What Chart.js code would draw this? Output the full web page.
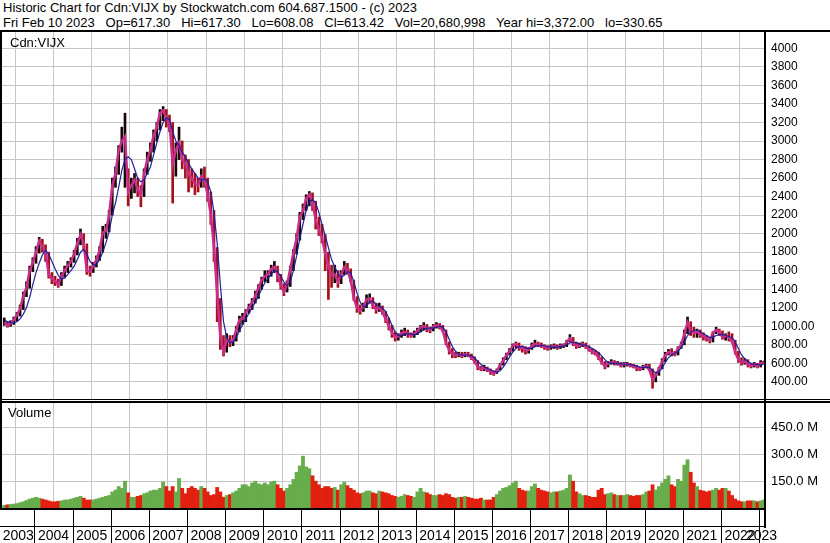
<!DOCTYPE html>
<html>
<head>
<meta charset="utf-8">
<script src="https://cdn.jsdelivr.net/npm/chart.js@4.4.0/dist/chart.umd.min.js"></script>
<style>
  body { margin: 0; background: #fff; }
  #page { position: relative; width: 830px; height: 543px; overflow: hidden; font-family: "Liberation Sans", Arial, sans-serif; color: #000; }
  .txt { position: absolute; font-size: 13px; line-height: 15px; white-space: pre; }
  .rule { position: absolute; background: #000; }
  canvas { position: absolute; left: 0; }
</style>
</head>
<body>
<div id="page">
  <div class="txt" style="left:3px; top:0">Historic Chart for Cdn:VIJX by Stockwatch.com 604.687.1500 - (c) 2023</div>
  <div class="txt" style="left:3px; top:15px">Fri Feb 10 2023   Op=617.30   Hi=617.30   Lo=608.08   Cl=613.42   Vol=20,680,998   Year hi=3,372.00   lo=330.65</div>
  <canvas id="price" width="830" height="367" style="top:32px"></canvas>
  <canvas id="volume" width="830" height="140" style="top:403px"></canvas>
  <div class="rule" style="left:0; top:30px; width:830px; height:2px"></div>
  <div class="rule" style="left:0; top:32px; width:2px; height:476px"></div>
  <div class="rule" style="left:764px; top:30px; width:2px; height:478px"></div>
  <div class="rule" style="left:0; top:399px; width:830px; height:1px"></div>
  <div class="rule" style="left:0; top:401px; width:830px; height:2px"></div>
  <div class="txt" style="left:10px; top:35px">Cdn:VIJX</div>
  <div class="txt" style="left:8px; top:405px">Volume</div>
</div>
<script>
// monthly readings, Mar 2003 .. Feb 2023
const startYear = 2003;
const startMonth = 3;

const close = [
  1040, 1010, 1030, 1070, 1120, 1190, 1330, 1420, 1600, 1690,            // 2003
  1800, 1920, 1860, 1800, 1560, 1510, 1490, 1450, 1540, 1600, 1660, 1700, // 2004
  1780, 1900, 1990, 1890, 1600, 1590, 1650, 1720, 1820, 2010, 2030, 2200, // 2005
  2520, 2650, 2900, 3000, 3050, 2450, 2520, 2580, 2480, 2420, 2650, 2800, // 2006
  2900, 3060, 3150, 3300, 3330, 3250, 3200, 2750, 2900, 2980, 2800, 2750, // 2007
  2650, 2600, 2540, 2520, 2620, 2580, 2420, 2200, 1850, 1350, 880, 720,   // 2008
  850, 830, 850, 960, 1070, 1080, 1150, 1200, 1260, 1330, 1420, 1500,     // 2009
  1540, 1560, 1620, 1640, 1560, 1450, 1370, 1450, 1620, 1800, 1950, 2180, // 2010
  2250, 2380, 2420, 2330, 2150, 2040, 1950, 1780, 1650, 1550, 1560, 1480, // 2011
  1560, 1640, 1600, 1500, 1300, 1200, 1170, 1210, 1290, 1300, 1220, 1180, // 2012
  1200, 1150, 1080, 1000, 930, 880, 890, 930, 940, 920, 900, 920,         // 2013
  950, 990, 1000, 980, 960, 1000, 1010, 1000, 950, 820, 740, 700,         // 2014
  690, 700, 680, 700, 690, 660, 620, 560, 540, 550, 530, 510,             // 2015
  490, 520, 580, 630, 690, 730, 790, 810, 770, 760, 740, 745,             // 2016
  790, 810, 800, 790, 780, 760, 780, 790, 770, 790, 790, 830,             // 2017
  870, 810, 790, 790, 810, 780, 750, 720, 710, 660, 610, 570,             // 2018
  600, 610, 600, 600, 580, 590, 590, 580, 570, 550, 540, 560,             // 2019
  570, 530, 420, 470, 540, 620, 690, 720, 710, 700, 760, 800,             // 2020
  920, 1040, 950, 930, 940, 910, 890, 870, 850, 930, 960, 940,            // 2021
  880, 900, 880, 840, 720, 640, 610, 620, 590, 570, 590, 565,             // 2022
  600, 613                                                                // 2023
];

const high = [
  1090, 1050, 1060, 1100, 1150, 1230, 1370, 1480, 1650, 1740,
  1860, 1960, 1940, 1880, 1800, 1580, 1540, 1510, 1580, 1650, 1700, 1740,
  1820, 1950, 2050, 2000, 1890, 1650, 1690, 1760, 1860, 2080, 2100, 2250,
  2600, 2720, 2950, 3150, 3300, 2700, 2600, 2650, 2600, 2520, 2700, 2880,
  2980, 3120, 3200, 3340, 3372, 3340, 3280, 3200, 2980, 3150, 3000, 2850,
  2800, 2700, 2650, 2600, 2700, 2720, 2600, 2450, 2250, 1850, 1300, 900,
  920, 900, 900, 1000, 1110, 1140, 1180, 1240, 1300, 1380, 1450, 1530,
  1600, 1600, 1660, 1700, 1650, 1560, 1460, 1490, 1650, 1830, 2000, 2230,
  2320, 2420, 2455, 2440, 2350, 2180, 2100, 1990, 1800, 1660, 1660, 1600,
  1600, 1700, 1680, 1620, 1500, 1320, 1230, 1250, 1340, 1350, 1310, 1250,
  1250, 1220, 1160, 1090, 1010, 940, 920, 960, 980, 960, 930, 950,
  980, 1010, 1040, 1020, 990, 1020, 1040, 1030, 1010, 960, 830, 760,
  720, 720, 720, 720, 720, 700, 670, 630, 570, 580, 560, 540,
  520, 540, 600, 660, 710, 760, 810, 830, 820, 790, 780, 770,
  820, 850, 830, 820, 800, 790, 800, 810, 800, 810, 810, 850,
  910, 880, 830, 820, 830, 820, 790, 760, 740, 720, 670, 620,
  620, 640, 630, 620, 610, 610, 610, 600, 590, 580, 560, 580,
  590, 590, 540, 490, 560, 650, 720, 750, 760, 730, 780, 830,
  960, 1100, 1050, 990, 970, 960, 930, 900, 880, 940, 990, 970,
  950, 920, 940, 920, 850, 730, 660, 650, 640, 600, 610, 600,
  630, 625
];

const low = [
  1010, 990, 1000, 1020, 1060, 1110, 1180, 1320, 1410, 1590,
  1680, 1790, 1800, 1700, 1520, 1460, 1440, 1420, 1440, 1530, 1580, 1640,
  1690, 1770, 1880, 1820, 1560, 1540, 1580, 1640, 1710, 1800, 1950, 2020,
  2200, 2500, 2640, 2880, 2500, 2300, 2380, 2440, 2400, 2290, 2400, 2640,
  2780, 2880, 3000, 3120, 3220, 3150, 3100, 2330, 2620, 2800, 2700, 2600,
  2450, 2500, 2420, 2450, 2500, 2500, 2350, 2100, 1700, 1050, 750, 680,
  720, 780, 790, 840, 940, 1020, 1050, 1140, 1180, 1250, 1300, 1400,
  1480, 1470, 1540, 1580, 1480, 1400, 1330, 1370, 1430, 1600, 1780, 1930,
  2150, 2250, 2300, 2250, 2050, 1980, 1900, 1600, 1290, 1420, 1470, 1420,
  1460, 1560, 1560, 1480, 1280, 1150, 1130, 1160, 1200, 1250, 1190, 1140,
  1160, 1130, 1040, 960, 880, 840, 850, 880, 900, 880, 880, 880,
  910, 940, 960, 940, 930, 950, 980, 970, 940, 800, 700, 660,
  660, 670, 660, 670, 670, 640, 600, 530, 520, 520, 510, 480,
  470, 490, 530, 580, 640, 690, 730, 770, 740, 720, 700, 710,
  750, 780, 780, 770, 750, 740, 750, 760, 750, 760, 770, 780,
  830, 790, 760, 770, 780, 760, 730, 700, 690, 640, 590, 540,
  560, 590, 580, 580, 560, 560, 570, 560, 550, 520, 520, 530,
  550, 520, 331, 400, 470, 540, 620, 690, 680, 680, 690, 760,
  800, 920, 900, 880, 880, 880, 850, 840, 820, 830, 920, 900,
  860, 850, 840, 820, 700, 610, 580, 590, 560, 550, 560, 550,
  560, 605
];

// the slow (blue) average line
const slowAvg = [
  1070, 1050, 1040, 1040, 1050, 1080, 1130, 1200, 1310, 1450,
  1580, 1680, 1770, 1820, 1780, 1700, 1620, 1550, 1510, 1520, 1560, 1600,
  1650, 1720, 1800, 1830, 1780, 1700, 1660, 1670, 1720, 1800, 1900, 2020,
  2200, 2330, 2500, 2680, 2800, 2830, 2800, 2700, 2600, 2560, 2580, 2650,
  2720, 2850, 2980, 3100, 3200, 3250, 3230, 3100, 3000, 2950, 2880, 2830,
  2760, 2700, 2650, 2600, 2580, 2590, 2560, 2450, 2230, 1900, 1450, 1050,
  880, 820, 830, 880, 950, 1020, 1080, 1140, 1200, 1260, 1330, 1400,
  1470, 1520, 1560, 1600, 1590, 1540, 1480, 1440, 1480, 1600, 1760, 1950,
  2100, 2250, 2340, 2370, 2330, 2230, 2100, 1980, 1850, 1720, 1640, 1570,
  1530, 1550, 1590, 1580, 1480, 1360, 1260, 1210, 1220, 1260, 1270, 1240,
  1210, 1200, 1160, 1090, 1010, 940, 900, 900, 910, 920, 915, 910,
  920, 940, 960, 980, 980, 980, 990, 1000, 990, 940, 860, 780,
  730, 700, 690, 690, 690, 680, 660, 620, 590, 560, 545, 530,
  515, 505, 520, 560, 610, 670, 720, 760, 780, 780, 770, 760,
  765, 780, 790, 795, 790, 780, 775, 775, 775, 780, 785, 800,
  820, 830, 820, 810, 800, 795, 780, 760, 740, 715, 680, 640,
  610, 600, 600, 600, 595, 590, 590, 585, 580, 570, 560, 555,
  560, 555, 520, 500, 505, 550, 610, 660, 690, 710, 730, 770,
  830, 900, 940, 960, 960, 940, 920, 900, 880, 880, 900, 910,
  910, 900, 890, 880, 830, 760, 690, 650, 620, 600, 590, 585,
  585, 590
];

// volume in millions
const volume = [
  15, 18, 20, 22, 25, 30, 35, 42, 50, 55,
  60, 55, 50, 45, 40, 35, 35, 38, 40, 45, 45, 50,
  55, 60, 65, 55, 45, 45, 45, 50, 55, 60, 65, 70,
  90, 100, 120, 110, 150, 85, 60, 60, 65, 70, 80, 85,
  95, 100, 100, 110, 145, 120, 95, 120, 90, 165, 110, 80,
  110, 120, 110, 100, 120, 110, 90, 70, 75, 115, 90, 60,
  70, 75, 85, 95, 110, 130, 130, 120, 140, 150, 135, 130,
  140, 130, 145, 150, 130, 110, 95, 110, 130, 160, 200, 235,
  290, 230, 220, 180, 150, 130, 110, 120, 120, 110, 115, 100,
  130, 145, 125, 110, 100, 85, 80, 85, 95, 95, 85, 80,
  95, 90, 85, 80, 70, 65, 60, 65, 75, 70, 65, 60,
  90, 110, 90, 85, 75, 70, 70, 75, 70, 80, 75, 60,
  55, 60, 60, 65, 60, 55, 50, 50, 55, 45, 45, 45,
  60, 75, 95, 110, 115, 125, 140, 150, 110, 100, 95, 95,
  120, 135, 110, 100, 95, 90, 85, 90, 90, 95, 100, 110,
  185, 150, 90, 80, 70, 70, 65, 60, 60, 100, 110, 75,
  80, 85, 75, 70, 70, 70, 75, 70, 65, 70, 70, 75,
  90, 95, 130, 100, 120, 140, 160, 180, 130, 120, 160, 150,
  240, 270, 200, 140, 120, 100, 95, 90, 95, 100, 110, 100,
  110, 110, 95, 70, 50, 40, 35, 35, 40, 40, 40, 35,
  40, 45
];

const yearLabels = ['2003', '2004', '2005', '2006', '2007', '2008', '2009', '2010', '2011', '2012',
  '2013', '2014', '2015', '2016', '2017', '2018', '2019', '2020', '2021', '2022', '2023'];
const priceTicks = [400, 600, 800, 1000, 1200, 1400, 1600, 1800, 2000, 2200,
  2400, 2600, 2800, 3000, 3200, 3400, 3600, 3800, 4000];
const priceTickLabels = ['400.00', '600.00', '800.00', '1000.00', '1200', '1400', '1600', '1800', '2000', '2200',
  '2400', '2600', '2800', '3000', '3200', '3400', '3600', '3800', '4000'];
const volumeTicks = [150, 300, 450];
const volumeTickLabels = ['150.0 M', '300.0 M', '450.0 M'];

const xMin = 2003.15;
const xMax = 2023.13;
const gridGray = '#c6c6c6';
const font = '"Liberation Sans", Arial, sans-serif';

const when = close.map((_, i) => startYear + (startMonth - 1 + i + 0.5) / 12);
const isDown = close.map((c, i) => i > 0 && c < close[i - 1]);
const yearTicks = yearLabels.slice(1).map((y) => ({ value: Number(y) }));

// no room reserved for half-labels, the plot fills its canvas
const noPadding = (s) => {
  s.paddingTop = 0;
  s.paddingBottom = 0;
  s.paddingLeft = 0;
  s.paddingRight = 0;
};

const xAxis = {
  type: 'linear',
  min: xMin,
  max: xMax,
  offset: false,
  grid: { color: gridGray, drawTicks: false },
  border: { display: false },
  ticks: { display: false },
  afterBuildTicks: (s) => { s.ticks = yearTicks.map((t) => ({ ...t })); },
  afterFit: (s) => { s.height = 0; noPadding(s); },
};

const baseOptions = {
  responsive: false,
  animation: false,
  devicePixelRatio: 1,
  plugins: { legend: { display: false }, tooltip: { enabled: false } },
};

new Chart(document.getElementById('price'), {
  type: 'line',
  data: {
    datasets: [
      {
        type: 'line',
        data: when.map((x, i) => ({ x, y: slowAvg[i] })),
        borderColor: '#1f1f9e',
        borderWidth: 1.2,
        pointRadius: 0,
        order: 0,
      },
      {
        type: 'line',
        data: when.map((x, i) => ({ x, y: close[i] })),
        borderColor: '#c92c8a',
        borderWidth: 2.5,
        pointRadius: 0,
        order: 1,
      },
      {
        type: 'bar',
        data: when.map((x, i) => ({ x, y: [low[i], high[i]] })),
        backgroundColor: isDown.map((d) => (d ? '#a4101c' : '#1a0606')),
        barThickness: 2,
        order: 2,
      },
    ],
  },
  options: {
    ...baseOptions,
    layout: { padding: { left: 2, top: 0, right: 0, bottom: 0 } },
    scales: {
      x: xAxis,
      y: {
        position: 'right',
        min: 215,
        max: 4177,
        grid: { color: gridGray, drawTicks: false },
        border: { display: false },
        ticks: {
          padding: 7,
          color: '#000',
          font: { family: font, size: 12 },
          callback: (v, i) => priceTickLabels[i],
        },
        afterBuildTicks: (s) => { s.ticks = priceTicks.map((v) => ({ value: v })); },
        afterFit: (s) => { s.width = 66; noPadding(s); },
      },
    },
  },
});

// empty strip plus year cells under the volume panel
const yearStrip = {
  id: 'yearStrip',
  afterDraw(chart) {
    const { ctx, chartArea } = chart;
    const x = chart.scales.x;
    const top = chartArea.bottom;
    const bottom = chart.height;
    ctx.save();
    ctx.fillStyle = '#000';
    ctx.fillRect(0, top, chartArea.right + 2, 2);
    ctx.fillRect(0, top + 18, chartArea.right + 2, 1);
    ctx.fillRect(chartArea.right, top, 2, 20);
    ctx.font = '14px ' + font;
    ctx.textAlign = 'center';
    ctx.textBaseline = 'alphabetic';
    yearLabels.forEach((label) => {
      const y = Number(label);
      const px = x.getPixelForValue(y);
      const start = Math.max(px, chartArea.left);
      const end = Math.min(x.getPixelForValue(y + 1), chartArea.right);
      if (px > chartArea.left) ctx.fillRect(Math.round(px), top, 1, bottom - top);
      ctx.fillText(label, (start + end) / 2, bottom - 3);
    });
    ctx.restore();
  },
};

new Chart(document.getElementById('volume'), {
  type: 'bar',
  data: {
    datasets: [
      {
        data: when.map((x, i) => ({ x, y: volume[i] })),
        backgroundColor: isDown.map((d) => (d ? '#e2200f' : '#67ad4c')),
        barPercentage: 1,
        categoryPercentage: 1,
      },
    ],
  },
  options: {
    ...baseOptions,
    layout: { padding: { left: 2, top: 0, right: 0, bottom: 35 } },
    scales: {
      x: xAxis,
      y: {
        position: 'right',
        min: 0,
        max: 587,
        grid: { color: gridGray, drawTicks: false },
        border: { display: false },
        ticks: {
          padding: 7,
          color: '#000',
          font: { family: font, size: 13 },
          callback: (v, i) => volumeTickLabels[i],
        },
        afterBuildTicks: (s) => { s.ticks = volumeTicks.map((v) => ({ value: v })); },
        afterFit: (s) => { s.width = 66; noPadding(s); },
      },
    },
  },
  plugins: [yearStrip],
});
</script>
</body>
</html>
